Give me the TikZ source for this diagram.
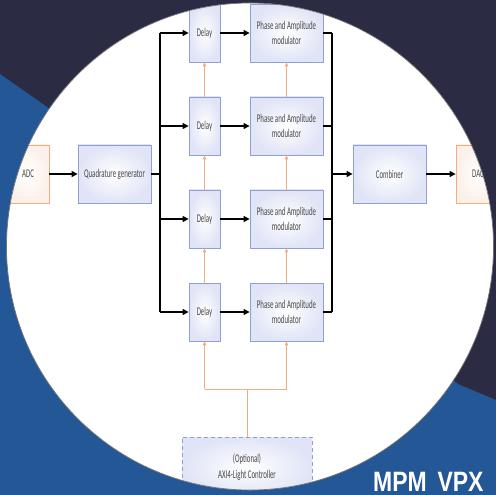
\documentclass[tikz,border=0pt]{standalone}
\usepackage{fontspec}
\setmainfont{Carlito}[FakeStretch=0.58]
\newfontfamily\titlefont{Liberation Sans}[FakeStretch=0.82,WordSpace=1.7]
\usetikzlibrary{arrows.meta,shadings}

\definecolor{navy}{RGB}{43,44,68}
\definecolor{band}{RGB}{36,87,150}
\definecolor{boxline}{RGB}{143,160,210}
\definecolor{boxfill}{RGB}{224,228,246}
\definecolor{orangeline}{RGB}{242,172,128}
\definecolor{orangefill}{RGB}{252,240,232}
\definecolor{txt}{RGB}{72,72,72}

\begin{document}
\begin{tikzpicture}[x=1bp,y=-1bp,
  lbl/.style={font=\fontsize{11.8bp}{15.5bp}\selectfont, text=txt, align=center},
  block/.style={lbl, draw=boxline, line width=0.8bp, inner color=white,
    outer color=boxfill, minimum height=58bp, inner sep=1bp},
  ioblock/.style={block, draw=orangeline, outer color=orangefill},
  ctrlblock/.style={lbl, draw=boxline, line width=0.8bp, dash pattern=on 4bp off 3bp,
    inner color=white, outer color=boxfill, minimum width=130bp, minimum height=60bp},
  sig/.style={line width=1.3bp, black},
  sigarr/.style={sig, -{Triangle[length=6bp,width=6bp]}},
  ctl/.style={line width=0.9bp, orangeline},
  ctlarr/.style={ctl, -{Triangle[length=4bp,width=3.5bp]}}]

\useasboundingbox (0,0) rectangle (496,495);

% background: dark navy with a blue band
\fill[navy] (0,0) rectangle (496,495);
\fill[band] (0,74) -- (47,107) -- (460,385) -- (496,400) -- (496,495) -- (0,495) -- cycle;

% white disc
\fill[white] (250,246.5) circle [radius=243.5bp];

\begin{scope}
\clip (250,246.5) circle [radius=243.5bp];

% blocks
\node[ioblock, minimum width=42bp] (adc) at (28,174) {ADC};
\node[block, minimum width=73bp] (qg) at (114.5,174) {Quadrature generator};
\node[block, minimum width=31bp] (d1) at (204.5,33) {Delay};
\node[block, minimum width=31bp] (d2) at (204.5,126) {Delay};
\node[block, minimum width=31bp] (d3) at (204.5,219) {Delay};
\node[block, minimum width=31bp] (d4) at (204.5,312) {Delay};
\node[block, minimum width=73bp] (p1) at (286.5,33) {Phase and Amplitude\\modulator};
\node[block, minimum width=73bp] (p2) at (286.5,126) {Phase and Amplitude\\modulator};
\node[block, minimum width=73bp] (p3) at (286.5,219) {Phase and Amplitude\\modulator};
\node[block, minimum width=73bp] (p4) at (286.5,312) {Phase and Amplitude\\modulator};
\node[block, minimum width=73bp] (comb) at (389.5,174) {Combiner};
\node[ioblock, minimum width=44bp] (dac) at (478,174) {DAC};
\node[ctrlblock] (axi) at (247,467) {(Optional)\\AXI4-Light Controller};

% bus positions
\coordinate (bus) at (160,0);
\coordinate (rbus) at (332,0);
\coordinate (junc) at (247,389);

% signal path
\draw[sigarr] (adc) -- (qg);
\draw[sig] (qg.east) -- (qg.east -| bus);
\draw[sig] (bus |- d1) -- (bus |- d4);
\foreach \i in {1,2,3,4} {
  \draw[sigarr] (bus |- d\i) -- (d\i);
  \draw[sigarr] (d\i) -- (p\i);
  \draw[sig] (p\i.east) -- (p\i.east -| rbus);
}
\draw[sig] (rbus |- p1) -- (rbus |- p4);
\draw[sigarr] (rbus |- comb) -- (comb);
\draw[sigarr] (comb) -- (dac);

% control path
\draw[ctlarr] (d4.north) -- (d3.south);
\draw[ctlarr] (d3.north) -- (d2.south);
\draw[ctlarr] (d2.north) -- (d1.south);
\draw[ctlarr] (p4.north) -- (p3.south);
\draw[ctlarr] (p3.north) -- (p2.south);
\draw[ctlarr] (p2.north) -- (p1.south);
\draw[ctl] (axi.north) -- (junc);
\draw[ctl] (d4.south |- junc) -- (p4.south |- junc);
\draw[ctlarr] (d4.south |- junc) -- (d4.south);
\draw[ctlarr] (p4.south |- junc) -- (p4.south);
\end{scope}

% disc rim
\draw[black!55, line width=0.7bp] (250,246.5) circle [radius=243.5bp];

% title
\node[anchor=base west, inner sep=0pt, text=white,
  font=\titlefont\bfseries\fontsize{28bp}{32bp}\selectfont] (title) at (373,491.5) {MPM VPX};
\end{tikzpicture}
\end{document}
